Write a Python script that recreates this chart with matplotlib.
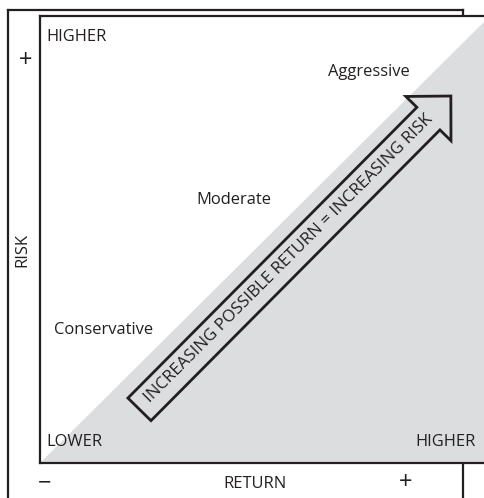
import matplotlib
matplotlib.use("Agg")
import matplotlib.pyplot as plt
from matplotlib.patches import Polygon, FancyArrow

plt.rcParams['font.family'] = ['Open Sans', 'DejaVu Sans']

# ---- data ----
profiles = ["Conservative", "Moderate", "Aggressive"]
profile_return = [0.142, 0.43, 0.731]   # position along RETURN axis (0..1)
profile_risk = [0.298, 0.588, 0.875]    # position along RISK axis (0..1)
axis_x_label = "RETURN"
axis_y_label = "RISK"
corner_labels = ["LOWER", "HIGHER", "HIGHER"]
arrow_text = "INCREASING POSSIBLE RETURN = INCREASING RISK"

INK = "#231f20"
GRAY = "#dcdddf"

W, H = 484, 498
fig = plt.figure(figsize=(W / 100, H / 100), dpi=100)

# outer frame
outer = fig.add_axes([8 / W, -14 / H, 455 / W, 502 / H])
outer.set_xticks([]); outer.set_yticks([])
for s in outer.spines.values():
    s.set_linewidth(1.6); s.set_color(INK)
outer.set_facecolor("white")

# inner chart
ax = fig.add_axes([40 / W, 35 / H, 450 / W, 447 / H])
ax.set_xlim(0, 1); ax.set_ylim(0, 1)
ax.set_xticks([]); ax.set_yticks([])
ax.set_facecolor("white")
for s in ax.spines.values():
    s.set_linewidth(1.6); s.set_color(INK)

ax.add_patch(Polygon([(0, 0), (1, 0), (1, 1)], closed=True, facecolor=GRAY,
                     edgecolor="none", zorder=1))

arr = FancyArrow(0.221, 0.120, 0.692, 0.701, width=0.072, head_width=0.141,
                 head_length=0.071, length_includes_head=True, fill=False,
                 edgecolor=INK, linewidth=2.0, zorder=3, joinstyle='miter')
ax.add_patch(arr)
ax.text(0.552, 0.457, arrow_text, rotation=45, rotation_mode='anchor',
        ha='center', va='center', fontsize=12.2, color=INK, zorder=4)

fs = 11.9
for name, xr, yr in zip(profiles, profile_return, profile_risk):
    ax.text(xr, yr, name, ha='center', va='center', fontsize=fs, color=INK, zorder=4)

ax.text(0.015, 0.953, corner_labels[2], ha='left', va='center', fontsize=fs, color=INK)
ax.text(0.015, 0.047, corner_labels[0], ha='left', va='center', fontsize=fs, color=INK)
ax.text(0.968, 0.047, corner_labels[1], ha='right', va='center', fontsize=fs, color=INK, zorder=4)

# outer axis labels
ax.text(-0.031, 0.9, "+", ha='center', va='center', fontsize=17, color=INK, clip_on=False)
ax.text(-0.04, 0.477, axis_y_label, rotation=90, ha='center', va='center', fontsize=fs,
        color=INK, clip_on=False)
ax.text(0.01, -0.045, "−", ha='center', va='center', fontsize=17, color=INK, clip_on=False)
ax.text(0.478, -0.047, axis_x_label, ha='center', va='center', fontsize=fs, color=INK, clip_on=False)
ax.text(0.813, -0.045, "+", ha='center', va='center', fontsize=17, color=INK, clip_on=False)

fig.savefig("out.png", dpi=100)
